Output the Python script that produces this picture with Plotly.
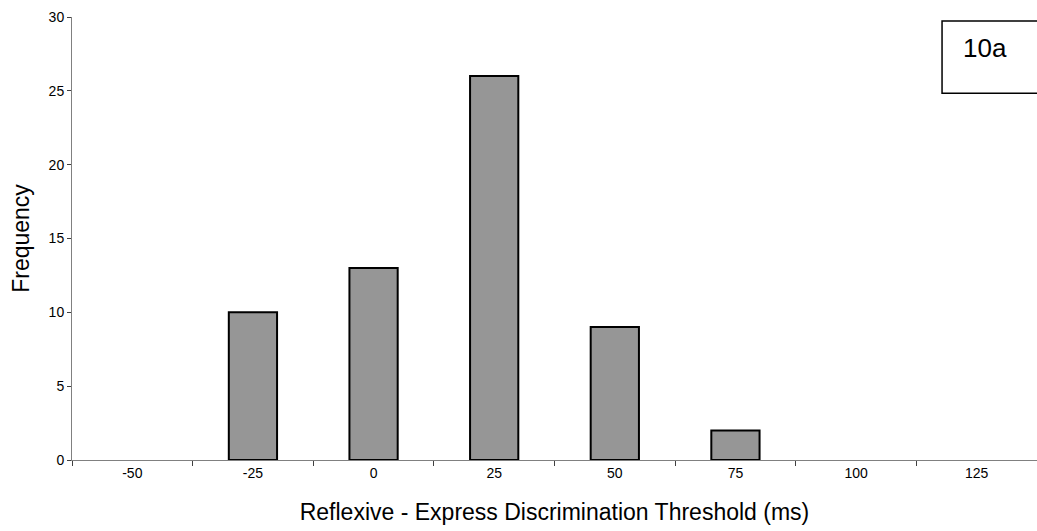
import plotly.graph_objects as go

# Histogram of threshold differences
bins = ["-50", "-25", "0", "25", "50", "75", "100", "125"]
frequency = [0, 10, 13, 26, 9, 2, 0, 0]

font_family = "Liberation Sans, Arial, sans-serif"

# empty bins get no outline
outline_widths = [2 if v > 0 else 0 for v in frequency]

fig = go.Figure(
    go.Bar(
        x=bins,
        y=frequency,
        marker=dict(color="#969696", line=dict(color="black", width=outline_widths)),
    )
)

fig.update_layout(
    width=1037,
    height=531,
    margin=dict(l=72, r=0, t=17, b=71),
    paper_bgcolor="white",
    plot_bgcolor="white",
    bargap=0.6,
    showlegend=False,
    font=dict(family=font_family, color="black"),
    xaxis=dict(
        type="category",
        tickson="boundaries",
        ticks="outside",
        ticklen=5,
        tickcolor="#404040",
        showline=True,
        linecolor="#808080",
        linewidth=1,
        showgrid=False,
        automargin=False,
        tickfont=dict(size=14, color="black"),
        title=dict(text="Reflexive - Express Discrimination Threshold (ms)",
                   font=dict(size=23), standoff=24),
    ),
    yaxis=dict(
        range=[0, 30],
        dtick=5,
        ticks="outside",
        ticklen=4,
        tickcolor="#404040",
        showline=True,
        linecolor="#808080",
        linewidth=1,
        showgrid=False,
        zeroline=False,
        automargin=False,
        tickfont=dict(size=14, color="black"),
        title=dict(text="Frequency", font=dict(size=23), standoff=12),
    ),
    shapes=[
        dict(type="rect", xref="paper", yref="paper",
             x0=0.9016, x1=1.02, y0=0.828, y1=0.991,
             line=dict(color="black", width=1.5), fillcolor="white"),
    ],
    annotations=[
        dict(text="10a", xref="paper", yref="paper", x=0.946, y=0.93,
             showarrow=False, font=dict(size=26, color="black"),
             xanchor="center", yanchor="middle"),
    ],
)

fig.write_html("out.html")
